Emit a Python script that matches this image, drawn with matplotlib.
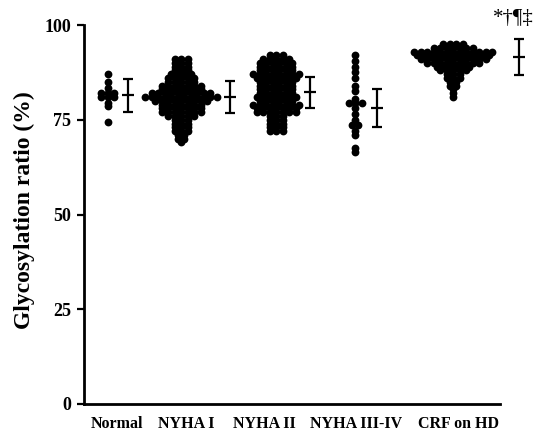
import numpy as np
import matplotlib
matplotlib.use("Agg")
import matplotlib.pyplot as plt

# ---------------- data ----------------
categories = ["Normal", "NYHA I", "NYHA II", "NYHA III-IV", "CRF on HD"]

normal = [87.0, 85.0, 83.5, 82.0, 82.0, 82.0, 81.0, 81.0, 81.0,
          79.5, 78.5, 74.5]

nyha1 = [91, 91, 91, 90, 90, 90, 89, 89, 89, 88, 88, 88,
         87, 87, 87, 87, 86, 86, 86, 86, 86, 85, 85, 85, 85, 85,
         84, 84, 84, 84, 84, 84, 84, 83, 83, 83, 83, 83, 83, 83,
         82, 82, 82, 82, 82, 82, 82, 82, 82, 82,
         81, 81, 81, 81, 81, 81, 81, 81, 81, 81, 81, 81,
         80, 80, 80, 80, 80, 80, 80, 80, 80,
         79, 79, 79, 79, 79, 79, 79, 78, 78, 78, 78, 78, 78, 78,
         77, 77, 77, 77, 77, 77, 77, 76, 76, 76, 76, 76,
         75, 75, 75, 74, 74, 74, 73, 73, 73, 72, 72, 72,
         71, 71, 70, 70, 69]

nyha2 = [92, 92, 92, 91, 91, 91, 91, 91, 90, 90, 90, 90, 90, 90,
         89, 89, 89, 89, 89, 89, 88, 88, 88, 88, 88, 88,
         87, 87, 87, 87, 87, 87, 87, 87, 86, 86, 86, 86, 86, 86, 86,
         85, 85, 85, 85, 85, 85, 84, 84, 84, 84, 84, 84,
         83, 83, 83, 83, 83, 83, 82, 82, 82, 82, 82, 82,
         81, 81, 81, 81, 81, 81, 81, 80, 80, 80, 80, 80, 80,
         79, 79, 79, 79, 79, 79, 79, 79, 78, 78, 78, 78, 78, 78, 78,
         77, 77, 77, 77, 77, 77, 77, 76, 76, 76, 75, 75, 75,
         74, 74, 74, 73, 73, 73, 72, 72, 72]

nyha34 = [92, 90.5, 89, 87.5, 86, 84, 82.5, 80.5, 79.5, 79.5, 79.5,
          78, 76.5, 75, 73.5, 73.5, 72, 71, 67.5, 66.5]

crf = [95, 95, 95, 95, 94, 94, 94, 94, 94, 94, 94,
       93, 93, 93, 93, 93, 93, 93, 93, 93, 93, 93, 93, 93,
       92, 92, 92, 92, 92, 92, 92, 92, 92, 92, 92, 92,
       91, 91, 91, 91, 91, 91, 91, 91, 91, 91, 91,
       90, 90, 90, 90, 90, 90, 90, 90, 90,
       89, 89, 89, 89, 89, 89, 88, 88, 88, 88, 88,
       87, 87, 87, 86, 86, 86, 85, 85, 84, 84, 83, 82, 81]

groups = [normal, nyha1, nyha2, nyha34, crf]

# mean and SD shown by the error bars
means = [81.4, 81.0, 82.2, 78.0, 91.5]
sds = [4.4, 4.1, 4.1, 5.0, 4.7]

annotation = "*\u2020\u00b6\u2021"
ylabel = "Glycosylation ratio (%)"
yticks = [0, 25, 50, 75, 100]

# ---------------- layout ----------------
W, H = 536, 433
fig = plt.figure(figsize=(W / 100, H / 100), dpi=100)
ax_left, ax_bottom, ax_w, ax_h = 84, 29, 452, 379
ax = fig.add_axes([ax_left / W, ax_bottom / H, ax_w / W, ax_h / H])
ax.set_xlim(0, ax_w)          # x in pixels relative to the y axis
ax.set_ylim(0, 100)

dot_pos = [23.5, 97, 192, 271, 369]
err_pos = [44, 146, 226, 293, 435]
lab_pos = [33, 102, 180, 272, 375]
dot_d = 7.8     # drawn pixel diameter
row_step = 6.5  # horizontal spacing of equal values


def row_offsets(values, step):
    vals = np.asarray(values, float)
    offs = np.zeros(len(vals))
    for v in np.unique(vals):
        idx = np.where(vals == v)[0]
        n = len(idx)
        offs[idx] = (np.arange(n) - (n - 1) / 2.0) * step
    return offs


for g, xc in zip(groups, dot_pos):
    off = row_offsets(g, row_step)
    ax.scatter(xc + off, g, s=(dot_d * 0.72) ** 2, color="black",
               linewidths=0, zorder=3, clip_on=False)

ax.errorbar(err_pos, means, yerr=sds, fmt="_", color="black",
            markersize=8, markeredgewidth=1.6, elinewidth=1.6,
            capsize=3.5, capthick=1.6, clip_on=False, zorder=3)

serif = ["Liberation Serif", "DejaVu Serif"]
ax.text(err_pos[-1] - 6, 101.8, annotation, ha="center", va="center",
        fontsize=15, family=serif, clip_on=False)

# axes styling
for s in ["top", "right"]:
    ax.spines[s].set_visible(False)
ax.spines["left"].set_linewidth(2)
ax.spines["bottom"].set_linewidth(2)
ax.spines["left"].set_bounds(0, 100)
ax.spines["bottom"].set_bounds(0, 416)

ax.set_yticks(yticks)
ax.set_yticklabels([str(t) for t in yticks], family=serif,
                   fontweight="bold", fontsize=13)
ax.tick_params(axis="y", direction="out", length=5, width=1.6, pad=4)
ax.set_xticks(lab_pos)
ax.set_xticklabels(categories, family=serif, fontweight="bold", fontsize=11.5)
ax.tick_params(axis="x", length=0, pad=9)

fig.text(24 / W, 1 - 210 / H, ylabel, rotation=90, ha="center", va="center",
         family=serif, fontweight="bold", fontsize=17)

fig.savefig("out.png", dpi=100)
